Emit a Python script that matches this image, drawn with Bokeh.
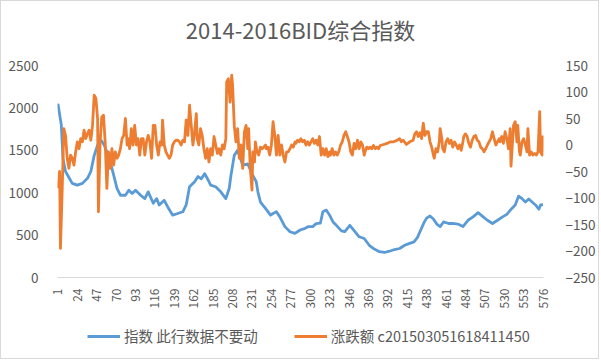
from math import pi
from bokeh.plotting import figure
from bokeh.layouts import column
from bokeh.models import (Range1d, LinearAxis, FixedTicker, Legend, LegendItem,
                          ColumnDataSource, Label)
from bokeh.embed import file_html
from bokeh.resources import INLINE

title = "2014-2016BID综合指数"
blue_name = "指数 此行数据不要动"
orange_name = "涨跌额 c201503051618411450"

x_ticks = [1, 24, 47, 70, 93, 116, 139, 162, 185, 208, 231, 254, 277, 300, 323,
           346, 369, 392, 415, 438, 461, 484, 507, 530, 553, 576]
left_ticks = [0, 500, 1000, 1500, 2000, 2500]
right_ticks = [-250, -200, -150, -100, -50, 0, 50, 100, 150]

blue_idx = [1, 5, 7, 10, 18, 24, 30, 36, 40, 44, 48, 52, 56, 62, 67, 71, 75, 81, 85, 89,
            93, 99, 104, 108, 114, 118, 121, 127, 131, 137, 143, 149, 153, 157, 163, 167,
            171, 175, 179, 182, 188, 194, 200, 204, 206, 210, 214, 220, 226, 232, 236, 238,
            241, 247, 253, 256, 260, 264, 270, 276, 282, 288, 294, 298, 303, 307, 312, 315,
            319, 323, 327, 331, 337, 341, 347, 353, 358, 364, 370, 376, 382, 388, 394, 400,
            406, 412, 417, 423, 427, 431, 435, 438, 442, 446, 450, 454, 458, 464, 469, 475,
            481, 487, 493, 499, 505, 510, 516, 522, 528, 533, 539, 543, 547, 551, 555, 559,
            563, 567, 571, 573, 576]
blue_val = [2050, 1800, 1400, 1250, 1110, 1090, 1110, 1170, 1250, 1440, 1560, 1620, 1560,
            1400, 1210, 1050, 970, 970, 1030, 990, 1030, 970, 930, 1010, 875, 930, 855, 910,
            835, 735, 755, 775, 855, 1070, 1130, 1190, 1165, 1225, 1150, 1090, 1070, 1010,
            930, 1050, 1200, 1440, 1500, 1325, 1340, 1205, 1130, 1010, 890, 815, 735, 755,
            775, 715, 600, 540, 520, 560, 580, 600, 600, 635, 640, 775, 795, 735, 655, 615,
            550, 540, 615, 540, 480, 460, 380, 335, 305, 295, 310, 330, 342, 380, 400, 420,
            470, 560, 650, 700, 725, 690, 630, 600, 655, 637, 637, 630, 600, 675, 715, 765,
            715, 675, 637, 675, 715, 745, 815, 855, 960, 930, 890, 925, 890, 855, 805, 855,
            860]

orange_idx = [1, 3, 4, 6, 8, 10, 12, 14, 16, 18, 20, 22, 24, 26, 28, 30, 32, 34, 36, 38,
              40, 42, 44, 46, 48, 49, 51, 53, 55, 57, 59, 61, 63, 65, 67, 69, 71, 73, 75, 77,
              79, 81, 83, 84, 86, 88, 90, 92, 94, 96, 98, 100, 102, 104, 106, 108, 110, 112,
              114, 116, 118, 120, 122, 124, 125, 127, 129, 131, 133, 135, 137, 139, 141, 143,
              145, 147, 149, 151, 153, 155, 157, 159, 161, 163, 165, 166, 168, 170, 172, 174,
              176, 178, 180, 182, 184, 186, 188, 190, 192, 194, 196, 198, 200, 201, 203, 205,
              207, 208, 210, 212, 214, 216, 218, 220, 222, 224, 226, 227, 229, 231, 232, 234,
              235, 237, 239, 241, 243, 245, 247, 248, 250, 252, 254, 256, 258, 260, 262, 264,
              266, 268, 270, 272, 274, 276, 278, 280, 282, 283, 285, 287, 289, 291, 293, 295,
              297, 299, 301, 303, 305, 307, 309, 311, 313, 315, 317, 319, 321, 323, 324, 326,
              328, 330, 332, 334, 336, 338, 340, 342, 344, 346, 348, 350, 352, 354, 356, 358,
              360, 362, 364, 365, 367, 369, 371, 373, 375, 377, 379, 381, 383, 387, 391, 395,
              399, 403, 406, 408, 410, 414, 418, 422, 424, 426, 428, 430, 432, 434, 436, 438,
              440, 442, 444, 446, 447, 449, 451, 453, 454, 456, 457, 459, 461, 463, 465, 467,
              469, 471, 473, 475, 477, 479, 481, 482, 484, 486, 488, 490, 492, 494, 496, 498,
              500, 502, 504, 506, 508, 510, 512, 514, 516, 518, 520, 522, 524, 525, 527, 529,
              531, 533, 535, 537, 538, 540, 541, 543, 545, 546, 548, 549, 551, 553, 555, 557,
              558, 560, 562, 564, 566, 568, 570, 572, 573, 575, 576]
orange_val = [-82, -50, -195, -88, 31, 18, -25, -44, -19, -25, -38, -13, 6, -7, 12, 6, 28, 12,
              21, 28, 9, 37, 94, 88, 50, -126, 6, 53, 56, 6, -82, -13, -44, -7, -38, -13, -25,
              -19, -7, 12, 18, 50, 0, 12, -7, 31, 0, 37, 0, 12, -19, 12, 12, -19, 6, 18, 6,
              -25, 37, 37, 0, -19, 6, 0, 47, 0, -13, -19, -25, -19, 0, 6, 9, 9, 6, 0, 9, 6, 47,
              18, 75, 37, 0, 25, 59, 12, 0, 31, 18, -7, -25, -7, -32, -7, -19, 16, 0, -16, -7,
              -19, 0, -7, 12, 119, 125, 81, 132, 113, 37, 6, 31, -25, 0, -44, 25, 37, -7, 31,
              -44, -85, -13, -32, 6, -13, -19, -4, -7, -4, 0, -7, -4, -19, 0, 44, 18, -19, 18,
              -19, 0, -19, -32, -13, -13, -7, 0, -4, 6, 3, 9, 6, 12, 6, 9, 0, 6, 0, 6, 12, 3, 9,
              0, 16, -19, -7, -19, -7, -22, -13, -19, -7, -19, -13, -19, -12, 0, 6, 18, 25, 16,
              6, -13, -19, 3, -7, 9, -7, 6, 0, -19, -13, -4, -7, -4, -7, -1, -7, -4, -7, -1, 1,
              3, 6, 6, 9, 12, 6, 9, 1, 6, 9, 21, 25, 16, 23, 12, 41, 18, 25, 25, 6, -4, -19,
              -25, -7, -13, 6, 31, 12, -7, -13, 6, 12, 3, 9, -4, 6, 0, -7, 0, -10, 6, 16, 21,
              16, 3, -4, 9, 16, 18, 9, 6, -4, -7, -13, -7, 0, 6, 12, 25, 12, 0, 6, 12, 6, 16, 3,
              25, 12, -7, 31, -40, 12, 37, 44, 6, 37, -13, -19, 6, 12, 0, -13, 31, -19, -13,
              -19, -16, -19, -13, 63, -13, -19, 18]

FONT = "Noto Sans CJK SC"
GREY = "#595959"
BLUE = "#5B9BD5"
ORANGE = "#ED7D31"

bsrc = ColumnDataSource(dict(x=blue_idx, y=blue_val))
osrc = ColumnDataSource(dict(x=orange_idx, y=orange_val))

# title strip
pt = figure(width=597, height=50, output_backend="svg", toolbar_location=None,
            x_range=Range1d(0, 1), y_range=Range1d(0, 1), x_axis_type=None, y_axis_type=None,
            min_border=0)
pt.outline_line_color = None
pt.add_layout(Label(x=0.5, y=0.45, text=title, text_align="center", text_baseline="middle",
                    text_font=FONT, text_font_size="22px", text_color=GREY))

# main chart
p = figure(width=597, height=260, output_backend="svg", toolbar_location=None,
           x_range=Range1d(0.5, 576.5), y_range=Range1d(0, 2500),
           min_border_left=56, min_border_right=49, min_border_top=14, min_border_bottom=33)
p.outline_line_color = None
p.xgrid.visible = False
p.ygrid.visible = False
p.extra_y_ranges = {"r": Range1d(-250, 150)}

p.line("x", "y", source=bsrc, line_color=BLUE, line_width=2.8, line_join="round")
p.line("x", "y", source=osrc, line_color=ORANGE, line_width=2.8, line_join="round",
       y_range_name="r")

xa = p.xaxis[0]
xa.ticker = FixedTicker(ticks=x_ticks)
xa.major_label_orientation = pi / 2
xa.axis_line_color = "#d9d9d9"
xa.axis_line_width = 1
xa.major_tick_line_color = None
xa.minor_tick_line_color = None
xa.major_label_standoff = 5
xa.major_label_text_font = FONT
xa.major_label_text_font_size = "12px"
xa.major_label_text_color = GREY

ya = p.yaxis[0]
ya.ticker = FixedTicker(ticks=left_ticks)
ya.axis_line_color = None
ya.major_tick_line_color = None
ya.minor_tick_line_color = None
ya.major_label_standoff = 13
ya.major_label_text_font = FONT
ya.major_label_text_font_size = "13.5px"
ya.major_label_text_color = GREY

ra = LinearAxis(y_range_name="r", ticker=FixedTicker(ticks=right_ticks))
ra.axis_line_color = None
ra.major_tick_line_color = None
ra.minor_tick_line_color = None
ra.major_label_standoff = 16
ra.major_label_text_font = FONT
ra.major_label_text_font_size = "13.5px"
ra.major_label_text_color = GREY
p.add_layout(ra, "right")

# legend strip below the chart (its ranges keep the series out of view)
pl = figure(width=597, height=47, output_backend="svg", toolbar_location=None,
            x_range=Range1d(-10, -9), y_range=Range1d(-10, -9), x_axis_type=None,
            y_axis_type=None, min_border=0)
pl.outline_line_color = None
lb = pl.line("x", "y", source=bsrc, line_color=BLUE, line_width=2.8)
lo = pl.line("x", "y", source=osrc, line_color=ORANGE, line_width=2.8)
legend = Legend(items=[LegendItem(label=blue_name, renderers=[lb]),
                       LegendItem(label=orange_name, renderers=[lo])],
                orientation="horizontal", location=(30, 12), padding=0, margin=0,
                spacing=36, glyph_width=33, glyph_height=14, label_standoff=4,
                border_line_color=None, background_fill_alpha=0,
                label_text_font=FONT, label_text_font_size="14.5px", label_text_color=GREY)
pl.add_layout(legend, "center")

layout = column(pt, p, pl, spacing=0, styles={"border": "1px solid #d9d9d9"})

open("out.html", "w").write(file_html(layout, INLINE))
